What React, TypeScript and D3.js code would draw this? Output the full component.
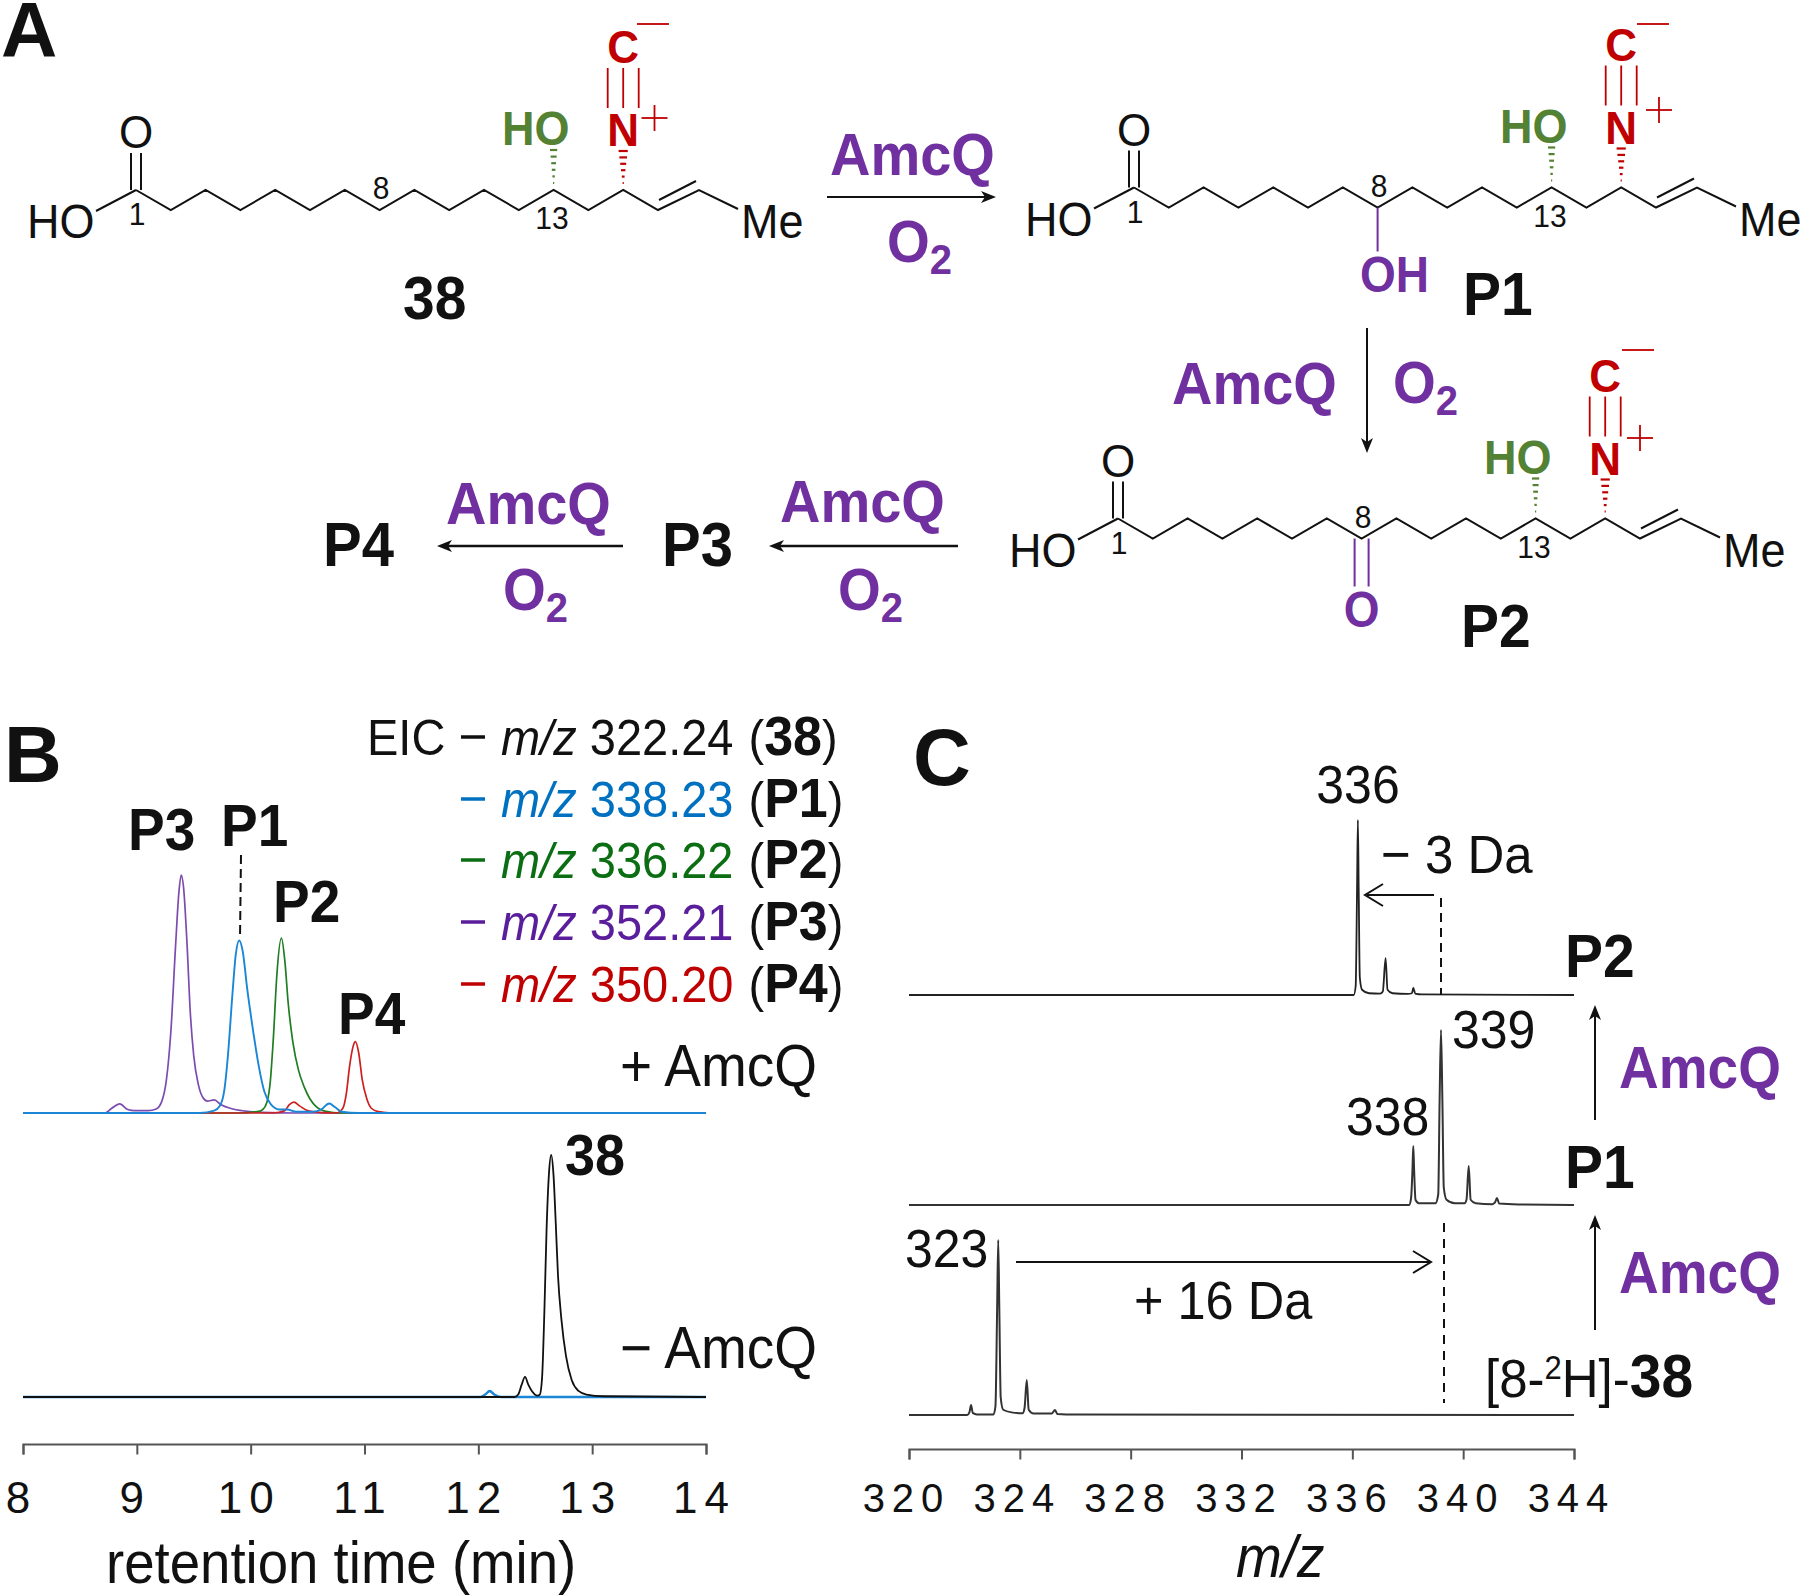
import { useEffect, useRef } from "react";
import * as d3 from "d3";

type Pt = [number, number];

const font = "'Liberation Sans', Arial, sans-serif";
const purple = "#7030a0";
const red = "#c00000";
const green = "#548235";
const stretch = 1.07; // the reference type is a little taller than Liberation Sans

// Panel B: extracted ion chromatograms (retention time, relative intensity)
const traceP3: Pt[] = [[8, 0], [8.72, 0], [8.78, 2], [8.85, 3.8], [8.92, 1.5], [8.98, 1], [9.1, 1], [9.17, 1.7], [9.22, 5], [9.26, 14], [9.3, 35], [9.34, 70], [9.37, 93], [9.39, 100], [9.41, 95], [9.44, 72], [9.47, 42], [9.5, 24], [9.54, 12], [9.58, 6.5], [9.62, 5], [9.68, 5.5], [9.74, 3.5], [9.82, 2], [9.95, 0.8], [10.1, 0.3], [10.4, 0], [14, 0]];
const traceP1: Pt[] = [[8, 0], [9.55, 0], [9.68, 1], [9.73, 3], [9.77, 10], [9.8, 24], [9.84, 50], [9.87, 67], [9.9, 72.5], [9.93, 68], [9.97, 52], [10.02, 35], [10.07, 20], [10.12, 9], [10.18, 3.5], [10.25, 1.5], [10.32, 1.5], [10.4, 0.5], [10.55, 0.5], [10.62, 1.5], [10.69, 4], [10.74, 2.5], [10.8, 0.5], [10.95, 0], [14, 0]];
const traceP2: Pt[] = [[8, 0], [9.9, 0], [10.08, 0.8], [10.13, 3], [10.17, 12], [10.2, 32], [10.23, 58], [10.27, 73.5], [10.3, 64], [10.33, 46], [10.37, 30], [10.42, 18], [10.47, 11], [10.52, 6], [10.58, 2.5], [10.65, 0.8], [10.8, 0], [14, 0]];
const traceP4: Pt[] = [[8, 0], [10.2, 0], [10.3, 1], [10.34, 3.5], [10.38, 4.6], [10.43, 3], [10.5, 1], [10.6, 0.3], [10.75, 0], [10.81, 2], [10.84, 8], [10.87, 20], [10.9, 28], [10.92, 30], [10.95, 25], [10.98, 14], [11.02, 6], [11.06, 2], [11.12, 0.6], [11.25, 0], [14, 0]];
const trace38: Pt[] = [[8, 0], [12.32, 0], [12.35, 1], [12.38, 5], [12.41, 8.3], [12.44, 5], [12.47, 2.5], [12.52, 0.6], [12.54, 1], [12.56, 8], [12.58, 35], [12.6, 70], [12.62, 92], [12.64, 100], [12.66, 92], [12.68, 72], [12.7, 50], [12.73, 32], [12.77, 17], [12.82, 7], [12.88, 2.5], [12.95, 1], [13.1, 0.3], [14, 0]];
const traceControlBlue: Pt[] = [[8, 0], [12.02, 0], [12.06, 1], [12.1, 2.5], [12.14, 1], [12.2, 0], [14, 0]];

const legendMz = ["322.24", "338.23", "336.22", "352.21", "350.20"];
const legendNames = ["38", "P1", "P2", "P3", "P4"];
const legendColors = ["#111111", "#0070c0", "#0b6e13", "#5a1e9c", "#c00000"];
const legendBaselines = [755, 817, 878, 940, 1002];
const rtTicks = [8, 9, 10, 11, 12, 13, 14];

// Panel C: mass spectra (m/z, relative intensity)
const spectrumP2: Pt[] = [[320, 0], [336.05, 0], [336.12, 5], [336.17, 60], [336.2, 100], [336.23, 60], [336.27, 10], [336.35, 3], [336.6, 1], [337.0, 0.8], [337.1, 2], [337.2, 21], [337.27, 3], [337.45, 1], [338.0, 0.6], [338.15, 1], [338.2, 4], [338.27, 0.8], [338.5, 0.3], [344, 0]];
const spectrumP1: Pt[] = [[320, 0], [338.05, 0], [338.12, 4], [338.17, 20], [338.2, 33.7], [338.23, 20], [338.28, 3], [338.4, 1], [339.0, 1], [339.1, 6], [339.15, 60], [339.2, 100], [339.25, 60], [339.3, 10], [339.4, 3], [339.7, 1], [340.05, 1], [340.12, 3], [340.2, 22.3], [340.27, 3], [340.45, 1], [341.05, 0.5], [341.15, 1.5], [341.22, 4], [341.3, 0.8], [342, 0.3], [344, 0]];
const spectrum38: Pt[] = [[320, 0], [322.1, 0], [322.18, 1.5], [322.24, 5.7], [322.3, 1.2], [322.45, 0.3], [323.05, 0.3], [323.12, 5], [323.18, 60], [323.22, 100], [323.26, 60], [323.31, 10], [323.4, 3], [323.7, 1.5], [324.1, 1], [324.17, 4], [324.25, 20], [324.32, 3], [324.5, 0.8], [325.15, 0.8], [325.27, 2.9], [325.35, 0.6], [326, 0.3], [344, 0]];
const mzTicks = [320, 324, 328, 332, 336, 340, 344];

const rtScale = d3.scaleLinear().domain([8, 14]).range([23, 706]);
const mzScale = d3.scaleLinear().domain([320, 344]).range([909, 1574]);

function linePath(x: d3.ScaleLinear<number, number>, baseline: number, full: number, pts: Pt[]) {
  const y = d3.scaleLinear().domain([0, 100]).range([baseline, baseline - full]);
  return (
    d3
      .line<Pt>()
      .x((d) => x(d[0]))
      .y((d) => y(d[1]))
      .curve(d3.curveMonotoneX)(pts) || undefined
  );
}

function Axis({ scale, y, ticks, size, spacing, padding, shift }: { scale: d3.ScaleLinear<number, number>; y: number; ticks: number[]; size: number; spacing: number; padding: number; shift: number }) {
  const ref = useRef<SVGGElement>(null);
  useEffect(() => {
    const g = d3.select(ref.current!);
    g.call(d3.axisBottom(scale).tickValues(ticks).tickFormat(d3.format("d") as any).tickSize(10.5).tickPadding(padding));
    g.attr("font-family", font).attr("font-size", size);
    g.selectAll("path,line").attr("stroke", "#555").attr("stroke-width", 2);
    g.selectAll("text").attr("fill", "#111").attr("dx", shift).style("letter-spacing", `${spacing}px`);
  }, []);
  return <g ref={ref} transform={`translate(0,${y})`} />;
}

function Label({ x, y, size, bold, fill = "#111", anchor, children }: { x: number; y: number; size: number; bold?: boolean; fill?: string; anchor?: string; children: any }) {
  return (
    <text transform={`translate(${x},${y}) scale(1,${stretch})`} fontSize={size} fontWeight={bold ? "bold" : "normal"} fill={fill} textAnchor={anchor}>
      {children}
    </text>
  );
}

function Arrow({ x1, y1, x2, y2, open, width = 2 }: { x1: number; y1: number; x2: number; y2: number; open?: boolean; width?: number }) {
  const len = Math.hypot(x2 - x1, y2 - y1);
  const deg = (Math.atan2(y2 - y1, x2 - x1) * 180) / Math.PI;
  return (
    <g transform={`translate(${x1},${y1}) rotate(${deg})`} stroke="#111" strokeWidth={width} fill="none">
      <line x1={0} y1={0} x2={len - (open ? 2 : 8)} y2={0} />
      {open ? (
        <path d={`M${len - 18},-11 L${len},0 L${len - 18},11`} />
      ) : (
        <path d={`M${len},0 L${len - 15},-6 L${len - 11},0 L${len - 15},6 Z`} fill="#111" stroke="none" />
      )}
    </g>
  );
}

function O2({ x, y }: { x: number; y: number }) {
  return (
    <text transform={`translate(${x},${y}) scale(1,${stretch})`} fontSize={55} fontWeight="bold" fill={purple}>
      O
      <tspan fontSize={40} dy={11}>
        2
      </tspan>
    </text>
  );
}

function Hash({ x, y1, y2, color, w }: { x: number; y1: number; y2: number; color: string; w: number }) {
  const bars = d3.range(6);
  const y = d3.scaleLinear().domain([0, 5]).range([y2, y1]);
  return (
    <g stroke={color} strokeWidth={2.2}>
      {bars.map((i) => {
        const half = 0.6 + (i / 5) * w;
        return <line key={i} x1={x - half} x2={x + half} y1={y(i)} y2={y(i)} />;
      })}
    </g>
  );
}

// Fatty acid skeleton in the frame of compound 38, moved by (dx, dy) for P1 and P2
const step = 34.8;
const chainCount = 16;
function Molecule({ dx, dy, plus, minus, c8 }: { dx: number; dy: number; plus: Pt; minus: Pt; c8?: "OH" | "O" }) {
  const top = 190;
  const bottom = 210;
  const vx = (i: number) => 136 + step * i;
  const vy = (i: number) => (i % 2 ? bottom : top);
  const chain: Pt[] = d3.range(chainCount).map((i) => [vx(i), vy(i)]);
  chain.push([699, top], [738, bottom - 1]);
  const c8x = vx(7);
  const azaX = vx(14);
  const hoX = vx(12);
  return (
    <g transform={`translate(${dx},${dy})`} fontFamily={font}>
      <path d={d3.line()(chain) || undefined} fill="none" stroke="#111" strokeWidth={2} />
      <line x1={659} y1={200} x2={696} y2={181} stroke="#111" strokeWidth={2} />
      <line x1={96} y1={211} x2={vx(0)} y2={top} stroke="#111" strokeWidth={2} />
      <line x1={131} y1={top} x2={131} y2={153} stroke="#111" strokeWidth={2} />
      <line x1={141} y1={top} x2={141} y2={153} stroke="#111" strokeWidth={2} />
      <Label x={136} y={148} size={44} anchor="middle">O</Label>
      <Label x={27} y={238} size={45}>HO</Label>
      <Label x={741} y={238} size={45}>Me</Label>
      <Label x={137} y={225} size={30} anchor="middle">1</Label>
      <Label x={381} y={199} size={30} anchor="middle">8</Label>
      <Label x={552} y={229} size={30} anchor="middle">13</Label>
      <Label x={502} y={145} size={45} bold fill={green}>HO</Label>
      <Hash x={hoX} y1={150} y2={183} color={green} w={3} />
      <Hash x={azaX} y1={151} y2={183} color={red} w={4} />
      <Label x={azaX} y={146} size={44} bold fill={red} anchor="middle">N</Label>
      <Label x={azaX} y={63} size={44} bold fill={red} anchor="middle">C</Label>
      {[-15.5, 0, 15.5].map((o) => (
        <line key={o} x1={azaX + o} x2={azaX + o} y1={68} y2={108} stroke={red} strokeWidth={1.8} />
      ))}
      <g stroke={red} strokeWidth={1.8}>
        <line x1={plus[0] - 13} x2={plus[0] + 13} y1={plus[1]} y2={plus[1]} />
        <line x1={plus[0]} x2={plus[0]} y1={plus[1] - 13} y2={plus[1] + 13} />
        <line x1={minus[0] - 16} x2={minus[0] + 16} y1={minus[1]} y2={minus[1]} />
      </g>
      {c8 === "OH" && (
        <g>
          <line x1={c8x} x2={c8x} y1={bottom} y2={254} stroke={purple} strokeWidth={2} />
          <Label x={362} y={294} size={46} bold fill={purple}>OH</Label>
        </g>
      )}
      {c8 === "O" && (
        <g>
          <g stroke={purple} strokeWidth={2}>
            <line x1={c8x - 7} x2={c8x - 7} y1={bottom} y2={258} />
            <line x1={c8x + 7} x2={c8x + 7} y1={bottom} y2={258} />
          </g>
          <Label x={c8x} y={298} size={46} bold fill={purple} anchor="middle">O</Label>
        </g>
      )}
    </g>
  );
}

export default function App() {
  const baseB = 1113;
  const baseB2 = 1397;
  const fullB = 238;
  const fullB2 = 242;
  const fullC = 175;
  const rt = (b: number, f: number, pts: Pt[]) => linePath(rtScale, b, f, pts);
  const mz = (b: number, pts: Pt[]) => linePath(mzScale, b, fullC, pts);
  return (
    <svg width={1800} height={1596} viewBox="0 0 1800 1596" style={{ position: "absolute", left: 0, top: 0, background: "#fff" }} fontFamily={font}>
      {/* Panel A */}
      <text x={1} y={57} fontSize={78} fontWeight="bold" fill="#111">A</text>
      <Molecule dx={0} dy={0} plus={[654.5, 118]} minus={[653, 24]} />
      <Label x={403} y={319} size={57} bold>38</Label>
      <Arrow x1={827} y1={197} x2={996} y2={197} />
      <Label x={830} y={175} size={56} bold fill={purple}>AmcQ</Label>
      <O2 x={887} y={262} />

      <Molecule dx={998} dy={-2.5} plus={[661, 112.5]} minus={[655, 26.5]} c8="OH" />
      <Label x={1463} y={315} size={57} bold>P1</Label>
      <Arrow x1={1367} y1={328} x2={1367} y2={453} />
      <Label x={1172} y={404} size={56} bold fill={purple}>AmcQ</Label>
      <O2 x={1393} y={403} />

      <Molecule dx={982} dy={328.5} plus={[658, 109.5]} minus={[656, 21.5]} c8="O" />
      <Label x={1461} y={647} size={57} bold>P2</Label>
      <Arrow x1={958} y1={546} x2={769} y2={546} width={2.4} />
      <Label x={662} y={566} size={58} bold>P3</Label>
      <Label x={780} y={522} size={56} bold fill={purple}>AmcQ</Label>
      <O2 x={838} y={610} />
      <Arrow x1={623} y1={546} x2={437} y2={546} width={2.4} />
      <Label x={323} y={566} size={58} bold>P4</Label>
      <Label x={446} y={524} size={56} bold fill={purple}>AmcQ</Label>
      <O2 x={503} y={610} />

      {/* Panel B */}
      <text x={4} y={782} fontSize={80} fontWeight="bold" fill="#111">B</text>
      <Label x={367} y={755} size={47}>EIC</Label>
      {legendMz.map((m, i) => (
        <g key={m}>
          <line x1={461} x2={485} y1={legendBaselines[i] - 18} y2={legendBaselines[i] - 18} stroke={legendColors[i]} strokeWidth={3.5} />
          <text transform={`translate(501,${legendBaselines[i]}) scale(1,${stretch})`} fontSize={47} fill={legendColors[i]}>
            <tspan fontStyle="italic">m/z</tspan> {m}
            <tspan fill="#111" dx={2}> (</tspan>
            <tspan fill="#111" fontWeight="bold" fontSize={52}>{legendNames[i]}</tspan>
            <tspan fill="#111">)</tspan>
          </text>
        </g>
      ))}
      <path d={rt(baseB, fullB, traceP3)} fill="none" stroke="#7d4bb0" strokeWidth={1.7} />
      <path d={rt(baseB, fullB, traceP2)} fill="none" stroke="#1f7d22" strokeWidth={1.7} />
      <path d={rt(baseB, fullB, traceP4)} fill="none" stroke="#cc2020" strokeWidth={1.7} />
      <path d={rt(baseB, fullB, traceP1)} fill="none" stroke="#1b86d6" strokeWidth={1.9} />
      <line x1={241} y1={855} x2={240} y2={938} stroke="#111" strokeWidth={2} strokeDasharray="9 5" />
      <Label x={128} y={850} size={55} bold>P3</Label>
      <Label x={221} y={846} size={55} bold>P1</Label>
      <Label x={273} y={922} size={55} bold>P2</Label>
      <Label x={338} y={1034} size={55} bold>P4</Label>
      <Label x={620} y={1086} size={55}>+ AmcQ</Label>

      <path d={rt(baseB2, fullB2, traceControlBlue)} fill="none" stroke="#1b86d6" strokeWidth={2.4} />
      <path d={rt(baseB2, fullB2, trace38)} fill="none" stroke="#111" strokeWidth={1.8} />
      <Label x={565} y={1175} size={54} bold>38</Label>
      <Label x={620} y={1368} size={55}>− AmcQ</Label>
      <Axis scale={rtScale} y={1444} ticks={rtTicks} size={44} spacing={7} padding={27} shift={-2} />
      <Label x={106} y={1583} size={54.6}>retention time (min)</Label>

      {/* Panel C */}
      <text x={913} y={785} fontSize={80} fontWeight="bold" fill="#111">C</text>
      <path d={mz(995, spectrumP2)} fill="none" stroke="#222" strokeWidth={1.8} />
      <path d={mz(1205, spectrumP1)} fill="none" stroke="#333" strokeWidth={2} />
      <path d={mz(1415, spectrum38)} fill="none" stroke="#333" strokeWidth={2} />
      <Label x={1358} y={803} size={50} anchor="middle">336</Label>
      <Label x={1381} y={873} size={51}>− 3 Da</Label>
      <Arrow x1={1434} y1={895} x2={1365} y2={895} open />
      <line x1={1441} y1={898} x2={1441} y2={995} stroke="#111" strokeWidth={2} strokeDasharray="9 6" />
      <Label x={1452} y={1048} size={50}>339</Label>
      <Label x={1346} y={1135} size={50}>338</Label>
      <Label x={1565} y={977} size={57} bold>P2</Label>
      <Label x={1565} y={1188} size={57} bold>P1</Label>
      <Arrow x1={1595} y1={1120} x2={1595} y2={1005} />
      <Label x={1619} y={1088} size={55} bold fill={purple}>AmcQ</Label>
      <Arrow x1={1595} y1={1330} x2={1595} y2={1215} />
      <Label x={1619} y={1293} size={55} bold fill={purple}>AmcQ</Label>
      <Label x={905} y={1267} size={50}>323</Label>
      <Arrow x1={1016} y1={1262} x2={1431} y2={1262} open />
      <Label x={1134} y={1319} size={50.5}>+ 16 Da</Label>
      <line x1={1444} y1={1223} x2={1444} y2={1403} stroke="#111" strokeWidth={2} strokeDasharray="9 7" />
      <text transform={`translate(1485,1397) scale(1,${stretch})`} fontSize={51} fill="#111">
        [8-
        <tspan fontSize={31} dy={-17}>2</tspan>
        <tspan dy={17}>H]-</tspan>
        <tspan fontWeight="bold" fontSize={57}>38</tspan>
      </text>
      <Axis scale={mzScale} y={1449} ticks={mzTicks} size={40} spacing={7} padding={24} shift={-3} />
      <Label x={1236} y={1577} size={55}><tspan fontStyle="italic">m/z</tspan></Label>
    </svg>
  );
}
